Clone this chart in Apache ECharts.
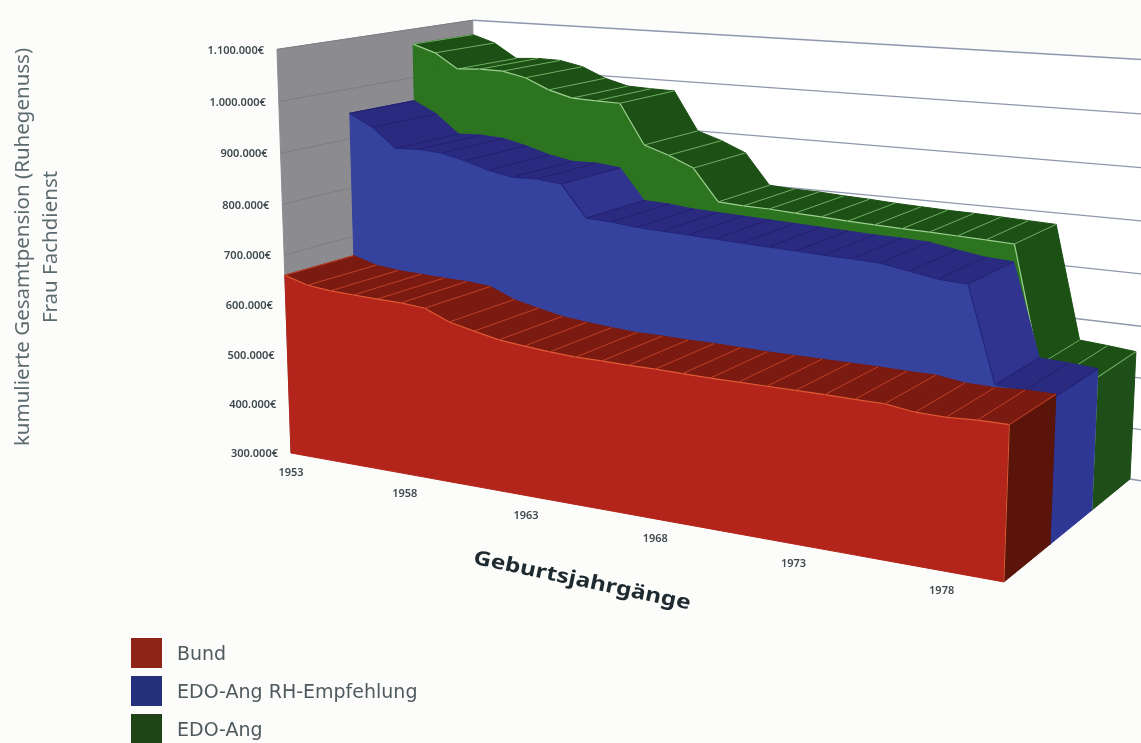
<!DOCTYPE html>
<html><head><meta charset="utf-8">
<style>html,body{margin:0;padding:0;background:#fcfcfb}#c{width:1141px;height:743px}</style>
<script src="https://cdn.jsdelivr.net/npm/echarts@6/dist/echarts.min.js"></script>
</head><body><div id="c"></div>
<script>
const years=[1953,1954,1955,1956,1957,1958,1959,1960,1961,1962,1963,1964,1965,1966,1967,1968,1969,1970,1971,1972,1973,1974,1975,1976,1977,1978,1979,1980];
const bund=[660000,646000,641000,639000,637000,636000,632000,612000,601000,591000,586000,582000,579000,579000,578000,578000,577000,576000,576000,576000,576000,576000,575000,575000,568000,567000,570000,570000];
const edoRH=[951000,927000,889000,891000,888000,877000,863000,854000,855000,850000,789000,787000,782000,780000,778000,776000,774000,772000,770000,768000,767000,765000,756000,748000,745000,572000,570000,566000];
const edoAng=[1069000,1054000,1024000,1027000,1026000,1016000,995000,982000,980000,979000,900000,884000,863000,801000,798000,797000,794000,792000,789000,787000,785000,784000,782000,780000,778000,559000,555000,550000];
const yTicks=[300000,400000,500000,600000,700000,800000,900000,1000000,1100000];
const yTickLabels=['300.000€','400.000€','500.000€','600.000€','700.000€','800.000€','900.000€','1.000.000€','1.100.000€'];
const xTickYears=[1953,1958,1963,1968,1973,1978];
const seriesNames=['Bund','EDO-Ang RH-Empfehlung','EDO-Ang'];
const yTitle='kumulierte Gesamtpension (Ruhegenuss)\nFrau Fachdienst';
const xTitle='Geburtsjahrgänge';

// flat reference grid: library scales give the front plane, the view transform below gives the perspective
const GL=291,GW=713,GT=47,GH=406,YMIN=300000,YMAX=1100000;
const A=20.3,B=1.237,C=-.00608,E=82.7,F=-8.5,G=.0421,M=-.0047,S=48.8,XC=650,YC=400,X0=291,Y0=453;
function project(api,year,value,d){
  const c=api.coord([year,value]);
  const t=(c[0]-GL)/GW*27, h=(GT+GH-c[1])/GH*8;
  const w=1+C*t+G*d, D=w+M*h;
  const xb=(X0+A*t+E*d)/w, yb=(Y0+B*t+F*d)/w;
  return [XC+(xb-XC)*w/D, YC+(yb-YC)*w/D-S*h/D];
}
function poly(points,fill,stroke,lw){return{type:'polygon',silent:true,shape:{points},style:{fill,stroke:stroke||fill,lineWidth:lw==null?1:lw}};}
function line(a,b,stroke,lw){return{type:'line',silent:true,shape:{x1:a[0],y1:a[1],x2:b[0],y2:b[1]},style:{stroke,lineWidth:lw||1}};}

function slab(vals,d,pal){
  return function(params,api){
    const i=params.dataIndex,ch=[];
    const y=years[i],v=vals[i];
    const f=project(api,y,v,d),b=project(api,y,v,d+1);
    if(i<years.length-1){
      const y2=years[i+1],v2=vals[i+1];
      const f2=project(api,y2,v2,d),b2=project(api,y2,v2,d+1);
      ch.push(poly([f,f2,b2,b],v-v2>50000?pal.steep:pal.top));
      ch.push(line(f,b,pal.rib,1));
      ch.push(poly([f,f2,project(api,y2,YMIN,d),project(api,y,YMIN,d)],pal.front));
      ch.push(line(f,f2,pal.edge,1.2));
    }else{
      ch.push(poly([f,b,project(api,y,YMIN,d+1),project(api,y,YMIN,d)],pal.end));
      ch.push(line(f,b,pal.rib,1.1));
      ch.push(line(f,project(api,y,YMIN,d),pal.edge,1));
    }
    return{type:'group',children:ch};
  };
}
function wallItem(params,api){
  const i=params.dataIndex,ch=[],v=yTicks[i],y0=years[0],y1=1981,D=3;
  if(i===0){
    const vt=yTicks[yTicks.length-1];
    ch.push(poly([project(api,y0,vt,D),project(api,y1,vt,D),project(api,y1,YMIN,D),project(api,y0,YMIN,D)],'#ffffff','#ffffff'));
    ch.push(poly([project(api,y0,vt,0),project(api,y0,vt,D),project(api,y0,YMIN,D),project(api,y0,YMIN,0)],'#8b8b90'));
  }
  ch.push(line(project(api,y0,v,0),project(api,y0,v,D),'#7d7d83',1));
  ch.push(line(project(api,y0,v,D),project(api,y1,v,D),'#8f97ad',1.3));
  return{type:'group',children:ch};
}
const labelFont={fontFamily:'"Noto Sans"',fontWeight:600,fontSize:11,fill:'#3f4a4e'};
function yLabelItem(params,api){
  const p=project(api,years[0],yTicks[params.dataIndex],0);
  return{type:'text',silent:true,x:p[0]-13,y:p[1]+1,style:Object.assign({text:yTickLabels[params.dataIndex],align:'right',verticalAlign:'middle'},labelFont)};
}
function xLabelItem(params,api){
  const p=project(api,xTickYears[params.dataIndex],YMIN,0);
  return{type:'text',silent:true,x:p[0],y:p[1]+20,style:Object.assign({text:String(xTickYears[params.dataIndex]),align:'center',verticalAlign:'middle'},labelFont)};
}
const palGreen={top:'#1c5015',steep:'#1c5015',front:'#2c7420',end:'#1f4f18',rib:'#6fae62',edge:'#9ccf8f'};
const palBlue={top:'#2a2a80',steep:'#30348f',front:'#35429e',end:'#2f3794',rib:'#231f70',edge:'#232478'};
const palRed={top:'#7a1a10',steep:'#7a1a10',front:'#b3241a',end:'#5a1409',rib:'#c03f26',edge:'#dd5a34'};
const pts=a=>years.map((y,i)=>[y,a[i]]);
const chart=echarts.init(document.getElementById('c'),null,{renderer:'canvas'});
chart.setOption({
  animation:false,
  backgroundColor:'#fcfcfb',
  grid:{left:GL,top:GT,width:GW,height:GH,outerBoundsMode:'none'},
  xAxis:{type:'value',min:1953,max:1980,show:false},
  yAxis:{type:'value',min:YMIN,max:YMAX,interval:100000,
    axisLine:{show:false},axisTick:{show:false},axisLabel:{show:false},splitLine:{show:false},
    name:yTitle,nameLocation:'middle',nameRotate:90,nameGap:226,
    nameTextStyle:{fontFamily:'"Noto Sans"',fontSize:20.5,lineHeight:28,color:'#5c6b70',padding:[0,0,0,6]}},
  legend:{data:seriesNames,orient:'vertical',left:131,top:638,height:120,padding:0,itemWidth:31,itemHeight:35,itemGap:3,
    icon:'path://M0,0H31V30H0Z M31,35L31,35',
    textStyle:{fontFamily:'"DejaVu Sans"',fontSize:19,color:'#4e5a5e',padding:[0,0,0,10]},selectedMode:false},
  graphic:[{type:'text',silent:true,x:582,y:581,rotation:-12*Math.PI/180,scaleX:1.22,
    style:{text:xTitle,align:'center',verticalAlign:'middle',fontFamily:'"Noto Sans"',fontWeight:700,fontSize:20,fill:'#1f2a30'}}],
  series:[
    {name:'wall',type:'custom',data:yTicks.map(v=>[1953,v]),renderItem:wallItem,z:1},
    {name:'EDO-Ang',type:'custom',data:pts(edoAng),renderItem:slab(edoAng,2,palGreen),itemStyle:{color:'#1f4416'},z:2},
    {name:'EDO-Ang RH-Empfehlung',type:'custom',data:pts(edoRH),renderItem:slab(edoRH,1,palBlue),itemStyle:{color:'#25307a'},z:3},
    {name:'Bund',type:'custom',data:pts(bund),renderItem:slab(bund,0,palRed),itemStyle:{color:'#8e2418'},z:4},
    {name:'yLabels',type:'custom',data:yTicks.map(v=>[1953,v]),renderItem:yLabelItem,z:5},
    {name:'xLabels',type:'custom',data:xTickYears.map(y=>[y,YMIN]),renderItem:xLabelItem,z:5}
  ]
});
</script></body></html>
